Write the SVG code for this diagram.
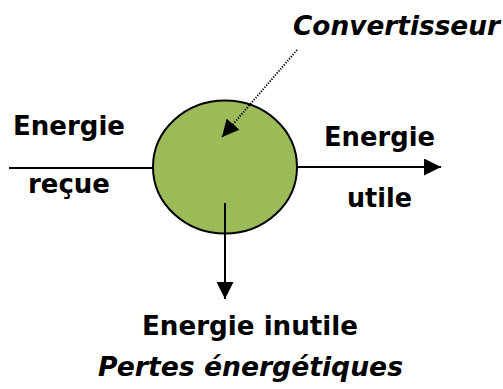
<svg xmlns="http://www.w3.org/2000/svg" width="503" height="389" viewBox="0 0 503 389">
<style>
.t{font-family:"DejaVu Sans","Liberation Sans",sans-serif;font-weight:bold;font-size:26px;fill:#000}
.i{font-style:italic}
.ln{stroke:#000;stroke-width:2;fill:none}
</style>
<defs>
<marker id="ah" viewBox="0 0 10 10" refX="10" refY="5" markerWidth="17" markerHeight="17" markerUnits="userSpaceOnUse" orient="auto"><path d="M0,0 L10,5 L0,10 Z" fill="#000"/></marker>
</defs>
<rect width="503" height="389" fill="#fff"/>
<g id="convertisseur">
<ellipse cx="225" cy="167" rx="72" ry="66.5" fill="#9BBB59" stroke="#000" stroke-width="2"/>
</g>
<g id="connectors">
<line class="ln" x1="9" y1="168" x2="153" y2="168"/>
<line class="ln" x1="297" y1="167" x2="441" y2="167" marker-end="url(#ah)"/>
<line class="ln" x1="225" y1="203" x2="225" y2="299" marker-end="url(#ah)"/>
<line x1="297" y1="50" x2="222" y2="137" stroke="#000" stroke-width="2" stroke-dasharray="1.2 1.5" marker-end="url(#ah)"/>
</g>
<g id="labels">
<text class="t i" x="293" y="35" textLength="207" lengthAdjust="spacingAndGlyphs">Convertisseur</text>
<text class="t" x="13" y="135" textLength="112" lengthAdjust="spacingAndGlyphs">Energie</text>
<text class="t" x="28" y="193" textLength="82" lengthAdjust="spacingAndGlyphs">reçue</text>
<text class="t" x="324" y="146" textLength="111" lengthAdjust="spacingAndGlyphs">Energie</text>
<text class="t" x="347" y="207" textLength="65" lengthAdjust="spacingAndGlyphs">utile</text>
<text class="t" x="142" y="335" textLength="216" lengthAdjust="spacingAndGlyphs">Energie inutile</text>
<text class="t i" x="98" y="376" textLength="305" lengthAdjust="spacingAndGlyphs">Pertes énergétiques</text>
</g>
</svg>
